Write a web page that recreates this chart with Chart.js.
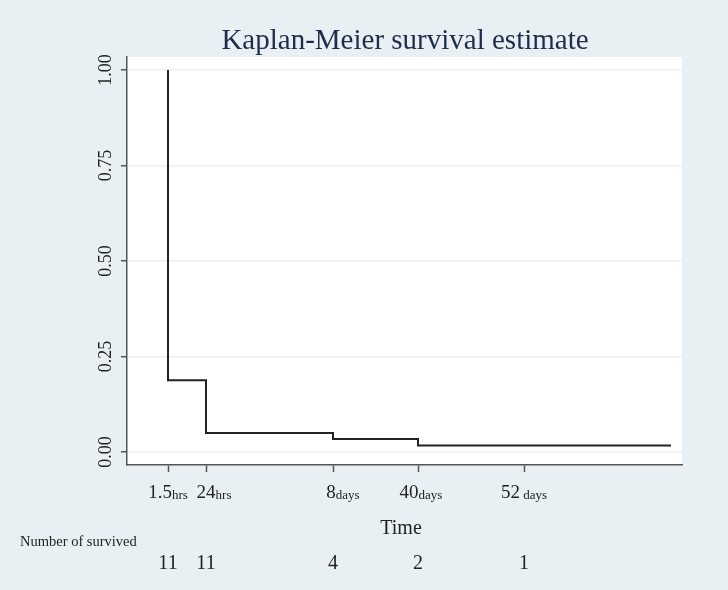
<!DOCTYPE html>
<html>
<head>
<meta charset="utf-8">
<script src="https://cdn.jsdelivr.net/npm/chart.js@4"></script>
<style>
  html, body { margin: 0; padding: 0; background: #e9f0f3; }
  #wrap { width: 728px; height: 590px; }
</style>
</head>
<body>
<div id="wrap"><canvas id="grafico" width="728" height="590"></canvas></div>
<script>
// axis positions of the labelled times (the original axis is not to scale)
const tickPos = [41, 79, 206, 291, 397];
const tickNum = ['1.5', '24', '8', '40', '52'];
const tickUnit = ['hrs', 'hrs', 'days', 'days', ' days'];
const survived = ['11', '11', '4', '2', '1'];

// survival estimate: drop at each event position, then follow-up end
const eventPos = [41, 79, 206, 291];
const survival = [0.188, 0.05, 0.034, 0.017];
const endPos = 544;
const yTicks = [0, 0.25, 0.5, 0.75, 1];

const serif = '"Liberation Serif", "DejaVu Serif", serif';

// step points: drop at the event, then horizontal to the next one
const escalones = [{ x: eventPos[0], y: 1 }];
eventPos.forEach((p, i) => {
  escalones.push({ x: p, y: survival[i] });
});
escalones.push({ x: endPos, y: survival[survival.length - 1] });

const textos = {
  id: 'textos',
  beforeDraw(chart) {
    const { ctx, chartArea: a } = chart;
    ctx.save();
    ctx.fillStyle = '#e9f0f3';
    ctx.fillRect(0, 0, chart.width, chart.height);
    ctx.fillStyle = '#ffffff';
    ctx.fillRect(a.left, a.top, a.right - a.left, a.bottom - a.top);
    ctx.restore();
  },
  afterDraw(chart) {
    const { ctx, scales: { x, y } } = chart;
    ctx.save();
    // title
    ctx.fillStyle = '#1f2d4d';
    ctx.font = `29px ${serif}`;
    ctx.textAlign = 'center';
    ctx.textBaseline = 'alphabetic';
    ctx.fillText('Kaplan-Meier survival estimate', 405, 49);

    // y tick labels, rotated
    ctx.fillStyle = '#222222';
    ctx.font = `18px ${serif}`;
    yTicks.forEach(v => {
      ctx.save();
      ctx.translate(111, y.getPixelForValue(v));
      ctx.rotate(-Math.PI / 2);
      ctx.textAlign = 'center';
      ctx.textBaseline = 'alphabetic';
      ctx.fillText(v.toFixed(2), 0, 0);
      ctx.restore();
    });

    // x tick labels: big number + small unit (slightly nudged like the original)
    const nudge = [0, 8, 10, 3, 0];
    tickPos.forEach((p, i) => {
      ctx.font = `19px ${serif}`;
      const w1 = ctx.measureText(tickNum[i]).width;
      ctx.font = `13px ${serif}`;
      const w2 = ctx.measureText(tickUnit[i]).width;
      const x0 = x.getPixelForValue(p) - (w1 + w2) / 2 + nudge[i];
      ctx.textAlign = 'left';
      ctx.font = `19px ${serif}`;
      ctx.fillText(tickNum[i], x0, 498);
      ctx.font = `13px ${serif}`;
      ctx.fillText(tickUnit[i], x0 + w1, 499);
    });

    // axis title
    ctx.textAlign = 'center';
    ctx.font = `20px ${serif}`;
    ctx.fillText('Time', 401, 534);

    // number at risk row
    ctx.textAlign = 'left';
    ctx.font = `14.5px ${serif}`;
    ctx.fillText('Number of survived', 20, 546);
    ctx.textAlign = 'center';
    ctx.font = `20px ${serif}`;
    tickPos.forEach((p, i) => {
      ctx.fillText(survived[i], x.getPixelForValue(p), 569);
    });
    ctx.restore();
  }
};

new Chart(document.getElementById('grafico').getContext('2d'), {
  type: 'line',
  data: {
    datasets: [{
      data: escalones,
      stepped: 'before',
      borderColor: '#222222',
      borderWidth: 2,
      pointRadius: 0,
      fill: false
    }]
  },
  options: {
    responsive: false,
    animation: false,
    layout: { padding: { top: 57, right: 46, left: 0, bottom: 0 } },
    plugins: { legend: { display: false }, tooltip: { enabled: false } },
    scales: {
      x: {
        type: 'linear',
        min: 0,
        max: 555,
        afterBuildTicks: s => { s.ticks = tickPos.map(v => ({ value: v })); },
        afterFit: s => { s.height = 125; },
        ticks: { display: false },
        grid: { drawOnChartArea: false, drawTicks: true, tickLength: 7, tickColor: '#555555', tickWidth: 1.5 },
        border: { color: '#555555', width: 1.5 }
      },
      y: {
        min: -0.034,
        max: 1.034,
        afterBuildTicks: s => { s.ticks = yTicks.map(v => ({ value: v })); },
        afterFit: s => { s.width = 127; },
        ticks: { display: false },
        grid: { color: '#eaf0f3', lineWidth: 1.5, drawTicks: true, tickLength: 6, tickColor: '#555555', tickWidth: 1.5 },
        border: { color: '#555555', width: 1.5 }
      }
    }
  },
  plugins: [textos]
});
</script>
</body>
</html>
